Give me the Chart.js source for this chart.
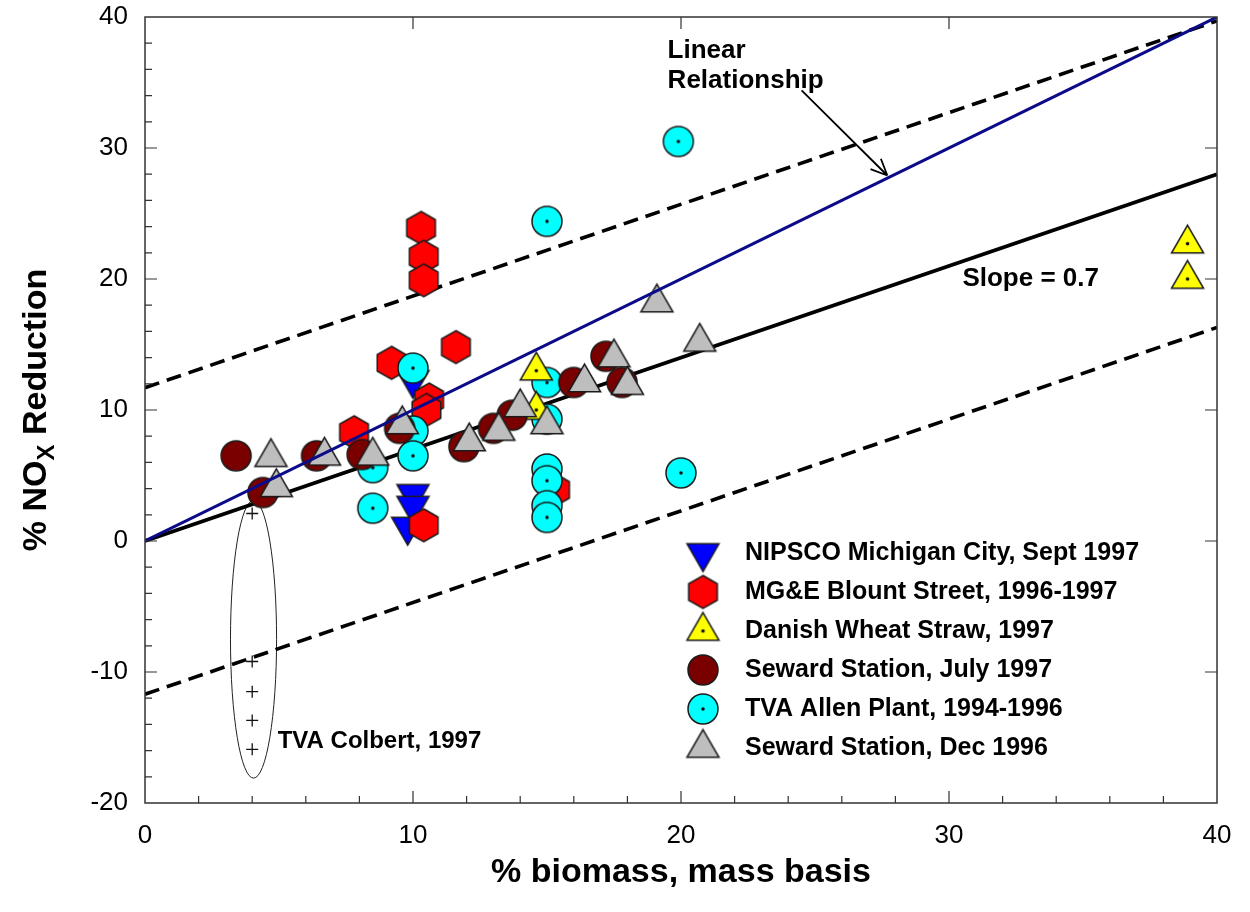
<!DOCTYPE html>
<html>
<head>
<meta charset="utf-8">
<script src="https://cdn.jsdelivr.net/npm/chart.js@4.4.1/dist/chart.umd.min.js"></script>
<style>
  html, body { margin: 0; padding: 0; background: #fff; }
</style>
</head>
<body>
<canvas id="chart" width="1250" height="912"></canvas>
<script>
// data, [% biomass, % NOx reduction]
const nipsco = [[10.0, 12.3], [10.0, 3.6], [10.0, 2.7], [9.8, 1.1]];
const mgeBlount = [[10.3, 23.9], [10.4, 21.7], [10.4, 19.9], [11.6, 14.8], [9.2, 13.6],
  [10.6, 10.8], [10.5, 10.0], [7.8, 8.3], [10.4, 1.2], [15.3, 3.9]];
const danishStraw = [[14.6, 13.0], [14.6, 10.0], [38.9, 22.7], [38.9, 20.0]];
const sewardJuly = [[3.4, 6.5], [4.4, 3.7], [6.4, 6.5], [8.1, 6.6], [9.5, 8.6], [11.9, 7.2],
  [13.0, 8.6], [13.7, 9.6], [16.0, 12.1], [17.2, 14.1], [17.8, 12.1]];
const tvaAllen = [[8.5, 5.6], [8.5, 2.5], [10.0, 13.2], [10.0, 8.4], [10.0, 6.5], [15.0, 24.4],
  [15.0, 12.1], [15.0, 9.3], [15.0, 5.5], [15.0, 4.6], [15.0, 2.7], [15.0, 1.8], [19.9, 30.5], [20.0, 5.2]];
const sewardDec = [[4.7, 6.4], [4.9, 4.1], [6.7, 6.5], [8.5, 6.5], [9.6, 8.9], [12.1, 7.6],
  [13.2, 8.4], [14.0, 10.2], [15.0, 8.9], [16.4, 12.1], [17.5, 14.0], [18.0, 11.9], [19.1, 18.2], [20.7, 15.2]];
const tvaColbert = [[4.0, 2.1], [4.0, -9.2], [4.0, -11.5], [4.0, -13.7], [4.0, -15.9]];

// reference lines (end points)
const lineX = [0, 40];
const linearY = [0, 40];
const slopeY = [0, 28];
const upperY = [11.7, 39.7];
const lowerY = [-11.7, 16.3];

const xTickValues = [0, 10, 20, 30, 40];
const yTickValues = [-20, -10, 0, 10, 20, 30, 40];

const legendLabels = [
  'NIPSCO Michigan City, Sept 1997',
  'MG&E Blount Street, 1996-1997',
  'Danish Wheat Straw, 1997',
  'Seward Station, July 1997',
  'TVA Allen Plant, 1994-1996',
  'Seward Station, Dec 1996'
];

const colbertEllipse = { x: 4.05, y: -7.5, rx: 0.86, ry: 10.6 };

const FONT = '"Liberation Sans", Arial, Helvetica, sans-serif';

function toPoints(arr) { return arr.map(p => ({ x: p[0], y: p[1] })); }
function linePoints(xs, ys) { return xs.map((v, i) => ({ x: v, y: ys[i] })); }

// marker images (hexagon and dotted symbols are not built into Chart.js)
function marker(shape, fill, r, dot) {
  const size = Math.ceil(2 * r + 6);
  const c = document.createElement('canvas');
  c.width = c.height = size;
  const g = c.getContext('2d');
  const cx = size / 2, cy = size / 2;
  g.beginPath();
  if (shape === 'circle') {
    g.arc(cx, cy, r, 0, Math.PI * 2);
  } else if (shape === 'tri' || shape === 'triDown') {
    const s = shape === 'tri' ? -1 : 1;
    for (let i = 0; i < 3; i++) {
      const a = i * 2 * Math.PI / 3;
      g.lineTo(cx + r * Math.sin(a), cy + s * r * Math.cos(a));
    }
    g.closePath();
  } else if (shape === 'hex') {
    for (let i = 0; i < 6; i++) {
      const a = i * Math.PI / 3;
      g.lineTo(cx + r * Math.sin(a), cy - r * Math.cos(a));
    }
    g.closePath();
  }
  g.fillStyle = fill;
  g.fill();
  g.lineWidth = 1.5;
  g.strokeStyle = '#1a1a1a';
  g.stroke();
  if (dot) {
    g.beginPath();
    g.arc(cx, cy, 1.8, 0, Math.PI * 2);
    g.fillStyle = '#111';
    g.fill();
  }
  return c;
}

const markers = [
  marker('triDown', '#0000ff', 18.5, false),
  marker('hex', '#ff0000', 16.5, false),
  marker('tri', '#ffff00', 18.5, true),
  marker('circle', '#7a0000', 15, false),
  marker('circle', '#00ffff', 15, true),
  marker('tri', '#bebebe', 18.5, false)
];

function scatterSet(label, arr, img, order) {
  return {
    type: 'scatter', label, data: toPoints(arr), order,
    pointStyle: img, pointRadius: 14, pointHoverRadius: 14
  };
}

function refLine(ys, color, width, dash, order) {
  return {
    type: 'line', data: linePoints(lineX, ys), order,
    borderColor: color, borderWidth: width, borderDash: dash,
    pointRadius: 0, fill: false, tension: 0
  };
}

const decor = {
  id: 'decor',
  beforeDatasetsDraw(chart) {
    const { ctx, scales: { x, y } } = chart;
    const e = colbertEllipse;
    const cx = x.getPixelForValue(e.x), cy = y.getPixelForValue(e.y);
    ctx.save();
    ctx.beginPath();
    ctx.ellipse(cx, cy, x.getPixelForValue(e.x + e.rx) - cx, cy - y.getPixelForValue(e.y + e.ry), 0, 0, Math.PI * 2);
    ctx.lineWidth = 1;
    ctx.strokeStyle = '#222';
    ctx.stroke();
    ctx.restore();
  },
  afterDraw(chart) {
    const { ctx, chartArea: a, scales: { x, y } } = chart;
    ctx.save();

    // frame
    ctx.strokeStyle = '#333';
    ctx.lineWidth = 1.5;
    ctx.strokeRect(a.left, a.top, a.right - a.left, a.bottom - a.top);

    // inward ticks
    ctx.lineWidth = 1.2;
    ctx.beginPath();
    for (let v = 2; v < 40; v += 2) {
      const px = x.getPixelForValue(v);
      const major = v % 10 === 0;
      ctx.moveTo(px, a.bottom);
      ctx.lineTo(px, a.bottom - (major ? 12 : 7));
      if (major) { ctx.moveTo(px, a.top); ctx.lineTo(px, a.top + 12); }
    }
    for (let v = -18; v < 40; v += 2) {
      const py = y.getPixelForValue(v);
      const major = v % 10 === 0;
      ctx.moveTo(a.left, py);
      ctx.lineTo(a.left + (major ? 12 : 7), py);
      if (major) { ctx.moveTo(a.right, py); ctx.lineTo(a.right - 12, py); }
    }
    ctx.stroke();

    // annotations
    ctx.fillStyle = '#000';
    ctx.textBaseline = 'alphabetic';
    ctx.textAlign = 'left';
    ctx.font = 'bold 26px ' + FONT;
    ctx.fillText('Linear', x.getPixelForValue(19.5), y.getPixelForValue(36.9));
    ctx.fillText('Relationship', x.getPixelForValue(19.5), y.getPixelForValue(34.6));
    ctx.fillText('Slope = 0.7', x.getPixelForValue(30.5), y.getPixelForValue(19.5));
    ctx.font = 'bold 24px ' + FONT;
    ctx.fillText('TVA Colbert, 1997', x.getPixelForValue(4.95), y.getPixelForValue(-15.8));

    // arrow
    const x0 = x.getPixelForValue(24.5), y0 = y.getPixelForValue(34.4);
    const x1 = x.getPixelForValue(27.7), y1 = y.getPixelForValue(27.9);
    const ang = Math.atan2(y1 - y0, x1 - x0);
    ctx.strokeStyle = '#000';
    ctx.lineWidth = 1.8;
    ctx.beginPath();
    ctx.moveTo(x0, y0);
    ctx.lineTo(x1, y1);
    [0.42, -0.42].forEach(d => {
      ctx.moveTo(x1, y1);
      ctx.lineTo(x1 - 18 * Math.cos(ang + d), y1 - 18 * Math.sin(ang + d));
    });
    ctx.stroke();

    // legend inside the plot
    ctx.font = 'bold 25px ' + FONT;
    ctx.textBaseline = 'middle';
    const lx = a.left + 558, ly = a.top + 536;
    legendLabels.forEach((t, i) => {
      const yy = ly + i * 39;
      const img = markers[i];
      ctx.drawImage(img, lx - img.width / 2, yy - img.height / 2);
      ctx.fillText(t, lx + 42, yy);
    });

    // axis titles
    ctx.textBaseline = 'alphabetic';
    ctx.textAlign = 'center';
    ctx.font = 'bold 34px ' + FONT;
    ctx.fillText('% biomass, mass basis', (a.left + a.right) / 2, 882);

    ctx.translate(46, (a.top + a.bottom) / 2);
    ctx.rotate(-Math.PI / 2);
    ctx.textAlign = 'left';
    const big = 'bold 34px ' + FONT, small = 'bold 24px ' + FONT;
    ctx.font = big;
    const w1 = ctx.measureText('% NO').width;
    const w3 = ctx.measureText(' Reduction').width;
    ctx.font = small;
    const w2 = ctx.measureText('X').width;
    let u = -(w1 + w2 + w3) / 2;
    ctx.font = big;
    ctx.fillText('% NO', u, 0);
    u += w1;
    ctx.font = small;
    ctx.fillText('X', u, 8);
    u += w2;
    ctx.font = big;
    ctx.fillText(' Reduction', u, 0);

    ctx.restore();
  }
};

new Chart(document.getElementById('chart'), {
  data: {
    datasets: [
      refLine(linearY, '#0b0b8a', 3, [], 0),
      scatterSet(legendLabels[5], sewardDec, markers[5], 1),
      scatterSet(legendLabels[3], sewardJuly, markers[3], 2),
      scatterSet(legendLabels[2], danishStraw, markers[2], 3),
      scatterSet(legendLabels[4], tvaAllen, markers[4], 4),
      scatterSet(legendLabels[1], mgeBlount, markers[1], 5),
      scatterSet(legendLabels[0], nipsco, markers[0], 6),
      {
        type: 'scatter', label: 'TVA Colbert, 1997', data: toPoints(tvaColbert), order: 7,
        pointStyle: 'cross', pointRadius: 6, borderColor: '#111', borderWidth: 1.3
      },
      refLine(slopeY, '#000', 3.8, [], 8),
      refLine(upperY, '#000', 3.6, [15, 8], 9),
      refLine(lowerY, '#000', 3.6, [15, 8], 10)
    ]
  },
  options: {
    responsive: false,
    animation: false,
    layout: { autoPadding: false, padding: { top: 17, right: 33, left: 0, bottom: 0 } },
    plugins: { legend: { display: false }, tooltip: { enabled: false } },
    scales: {
      x: {
        type: 'linear', min: 0, max: 40,
        afterBuildTicks: s => { s.ticks = xTickValues.map(v => ({ value: v })); },
        afterFit: s => { s.height = 109; s.paddingLeft = 0; s.paddingRight = 0; },
        grid: { display: false, drawTicks: false },
        border: { display: false },
        ticks: { font: { family: FONT, size: 26 }, color: '#000', padding: 17, maxRotation: 0 }
      },
      y: {
        type: 'linear', min: -20, max: 40,
        afterBuildTicks: s => { s.ticks = yTickValues.map(v => ({ value: v })); },
        afterFit: s => { s.width = 145; s.paddingTop = 0; s.paddingBottom = 0; },
        grid: { display: false, drawTicks: false },
        border: { display: false },
        ticks: { font: { family: FONT, size: 26 }, color: '#000', padding: 17 }
      }
    }
  },
  plugins: [decor]
});
</script>
</body>
</html>
